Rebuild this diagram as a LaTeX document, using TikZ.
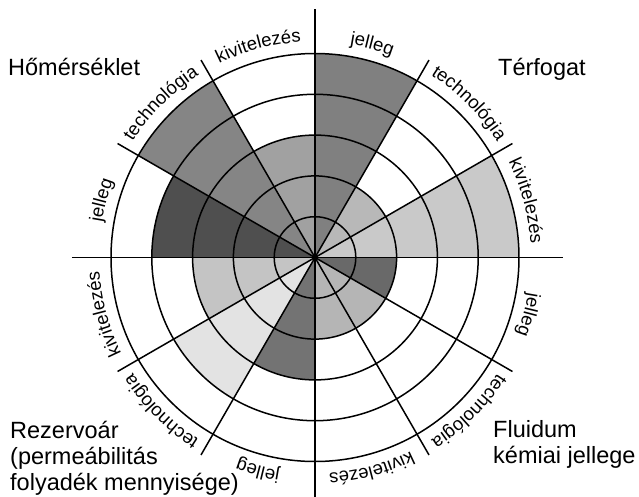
\documentclass[tikz,border=0pt]{standalone}
\usepackage{fontspec}
\setmainfont{Liberation Sans}
\usetikzlibrary{decorations.text}
\tikzstyle{ring}=[draw, line width=1.5pt]
\tikzstyle{spoke}=[draw, line width=1.5pt]
\tikzstyle{title}=[inner sep=0pt, align=left, font=\fontsize{23.5}{26}\selectfont]
\newcommand{\rimfont}{\fontsize{18.5}{20}\selectfont}
\tikzset{rim/.style={decorate, decoration={text along path, text align=center, text={|\rimfont|#1}}}}
\definecolor{terjel}{gray}{0.50}
\definecolor{tertech}{gray}{0.72}
\definecolor{terkiv}{gray}{0.79}
\definecolor{homkiv}{gray}{0.63}
\definecolor{homtech}{gray}{0.52}
\definecolor{homjel}{gray}{0.31}
\definecolor{rezkiv}{gray}{0.77}
\definecolor{reztech}{gray}{0.89}
\definecolor{rezjel}{gray}{0.45}
\definecolor{flukiv}{gray}{0.71}
\definecolor{flutech}{gray}{0.71}
\definecolor{flujel}{gray}{0.41}

\begin{document}
\begin{tikzpicture}[x=1pt, y=1pt]
  \useasboundingbox (-315,-238.5) rectangle (324,257.5);

  % Terfogat
  \fill[terjel] (0,0) -- (60:204) arc[start angle=60, end angle=90, radius=204] -- cycle;
  \fill[tertech] (0,0) -- (30:81.6) arc[start angle=30, end angle=60, radius=81.6] -- cycle;
  \fill[terkiv] (0,0) -- (0:204) arc[start angle=0, end angle=30, radius=204] -- cycle;
  % Homerseklet
  \fill[homkiv] (0,0) -- (90:122.4) arc[start angle=90, end angle=120, radius=122.4] -- cycle;
  \fill[homtech] (0,0) -- (120:204) arc[start angle=120, end angle=150, radius=204] -- cycle;
  \fill[homjel] (0,0) -- (150:163.2) arc[start angle=150, end angle=180, radius=163.2] -- cycle;
  % Rezervoar
  \fill[rezkiv] (0,0) -- (180:122.4) arc[start angle=180, end angle=210, radius=122.4] -- cycle;
  \fill[reztech] (0,0) -- (210:163.2) arc[start angle=210, end angle=240, radius=163.2] -- cycle;
  \fill[rezjel] (0,0) -- (240:122.4) arc[start angle=240, end angle=270, radius=122.4] -- cycle;
  % Fluidum
  \fill[flukiv] (0,0) -- (270:81.6) arc[start angle=270, end angle=300, radius=81.6] -- cycle;
  \fill[flutech] (0,0) -- (300:81.6) arc[start angle=300, end angle=330, radius=81.6] -- cycle;
  \fill[flujel] (0,0) -- (330:81.6) arc[start angle=330, end angle=360, radius=81.6] -- cycle;

  \draw[ring] (0,0) circle (40.8);
  \draw[ring] (0,0) circle (81.6);
  \draw[ring] (0,0) circle (122.4);
  \draw[ring] (0,0) circle (163.2);
  \draw[ring] (0,0) circle (204);

  \draw[spoke] (0,0) -- (30:228);
  \draw[spoke] (0,0) -- (60:228);
  \draw[spoke] (0,0) -- (120:228);
  \draw[spoke] (0,0) -- (150:228);
  \draw[spoke] (0,0) -- (210:228);
  \draw[spoke] (0,0) -- (240:228);
  \draw[spoke] (0,0) -- (300:228);
  \draw[spoke] (0,0) -- (330:228);
  \draw[spoke] (-243,0) -- (248,0);
  \draw[spoke] (0,-240) -- (0,248);

  % sector labels along the rim
  \path[rim={jelleg}] (90:216) arc[start angle=90, end angle=60, radius=216];
  \path[rim={technológia}] (60:216) arc[start angle=60, end angle=30, radius=216];
  \path[rim={kivitelezés}] (30:216) arc[start angle=30, end angle=0, radius=216];
  \path[rim={kivitelezés}] (120:216) arc[start angle=120, end angle=90, radius=216];
  \path[rim={technológia}] (150:216) arc[start angle=150, end angle=120, radius=216];
  \path[rim={jelleg}] (180:216) arc[start angle=180, end angle=150, radius=216];
  \path[rim={kivitelezés}] (210:216) arc[start angle=210, end angle=180, radius=216];
  \path[rim={technológia}] (240:216) arc[start angle=240, end angle=210, radius=216];
  \path[rim={jelleg}] (270:216) arc[start angle=270, end angle=240, radius=216];
  \path[rim={kivitelezés}] (300:216) arc[start angle=300, end angle=270, radius=216];
  \path[rim={technológia}] (330:216) arc[start angle=330, end angle=300, radius=216];
  \path[rim={jelleg}] (360:216) arc[start angle=360, end angle=330, radius=216];

  \node[title, anchor=base west] (hom) at (-307,182.5) {Hőmérséklet};
  \node[title, anchor=base west] (ter) at (183,182.5) {Térfogat};
  \node[title, anchor=base west] (rez) at (-305,-232.5) {Rezervoár\\(permeábilitás\\folyadék mennyisége)};
  \node[title, anchor=base west] (flu) at (178,-205.5) {Fluidum\\kémiai jellege};
\end{tikzpicture}
\end{document}
